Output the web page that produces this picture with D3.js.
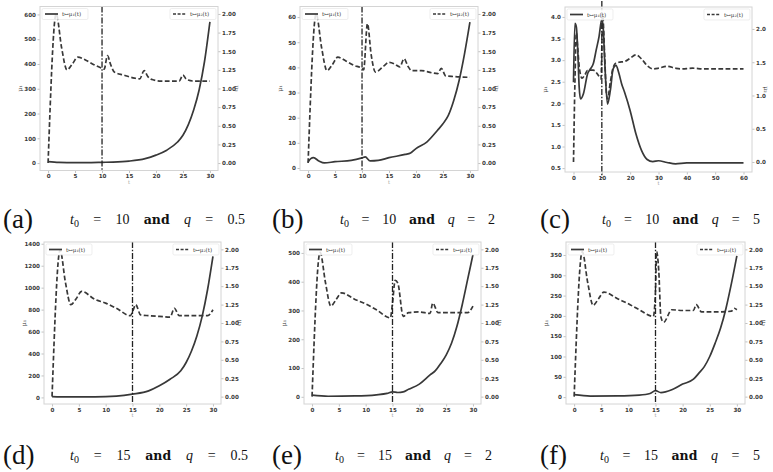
<!DOCTYPE html>
<html>
<head>
<meta charset="utf-8">
<script src="https://cdn.jsdelivr.net/npm/d3@7"></script>
<style>
  body { margin: 0; background: #fff; }
  .tick text { font-family: "DejaVu Sans", sans-serif; }
</style>
</head>
<body>
<svg id="fig" width="773" height="472"></svg>
<script>
// ---- values ----
// (a) t0 = 10, q = 0.5
var aT1 = [0, 2, 5, 8, 10, 12, 15, 18, 20, 22, 24, 25, 26, 27, 28, 29, 30];
var aMu1 = [6, 3, 2, 2, 3, 4, 8, 18, 32, 52, 85, 112, 155, 215, 295, 410, 570];
var aT2 = [0, 1.5, 2.5, 3.5, 4.5, 5.5, 7, 8.5, 10, 10.4, 11, 11.6, 12.3, 14, 16, 17, 17.8, 18.5, 19.3, 21, 23, 24.3, 25, 25.7, 27, 30];
var aMu2 = [0, 2.0, 1.55, 1.25, 1.33, 1.42, 1.38, 1.32, 1.27, 1.26, 1.44, 1.32, 1.22, 1.18, 1.14, 1.13, 1.24, 1.16, 1.12, 1.10, 1.10, 1.10, 1.18, 1.12, 1.10, 1.10];

// (b) t0 = 10, q = 2
var bT1 = [0, 0.5, 1, 2, 3, 5, 8, 10, 10.6, 11.5, 13, 15, 18, 19, 20, 22, 24, 25, 26, 27, 28, 29, 30];
var bMu1 = [2.4, 3.7, 4.1, 2.8, 2.0, 2.5, 3.0, 4.0, 4.4, 2.8, 3.0, 4.1, 5.4, 6.0, 7.7, 10.3, 15, 17.6, 20.9, 26.8, 34.8, 45.4, 58];
var bT2 = [0, 1.5, 2.5, 3.5, 4.5, 5.5, 7, 8.5, 10, 10.3, 11, 11.7, 12.5, 14, 15, 16, 17, 17.8, 18.5, 19.2, 21, 23, 24, 24.7, 25.5, 27, 30];
var bMu2 = [0, 2.0, 1.55, 1.24, 1.32, 1.42, 1.37, 1.31, 1.27, 1.25, 1.87, 1.45, 1.22, 1.30, 1.35, 1.33, 1.29, 1.40, 1.30, 1.24, 1.24, 1.21, 1.20, 1.27, 1.17, 1.16, 1.15];

// (c) t0 = 10, q = 5
var cT1 = [0, 0.5, 1, 1.5, 2, 2.5, 3.5, 5, 6, 7, 8, 9, 10, 10.5, 11, 12, 13, 14, 15, 16, 17, 18, 20, 22, 24, 26, 28, 30, 33, 36, 40, 45, 50, 55, 60];
var cMu1 = [2.49, 3.85, 3.77, 3.23, 2.38, 2.1, 2.22, 2.69, 2.8, 2.92, 3.23, 3.54, 3.95, 3.73, 3.0, 1.98, 2.3, 2.8, 2.88, 2.7, 2.45, 2.26, 1.83, 1.3, 0.91, 0.70, 0.65, 0.67, 0.63, 0.60, 0.62, 0.62, 0.62, 0.62, 0.62];
var cT2 = [0, 0.5, 1, 1.5, 2, 3, 4, 5, 7, 9, 9.7, 10.3, 11, 11.5, 12, 13, 14, 15, 16, 18, 20, 22, 24, 26, 28, 30, 33, 36, 38, 42, 46, 50, 55, 60];
var cMu2 = [0, 1.19, 1.94, 1.7, 1.44, 1.26, 1.31, 1.38, 1.38, 1.29, 1.25, 2.2, 1.6, 1.1, 0.95, 1.2, 1.42, 1.49, 1.5, 1.51, 1.56, 1.61, 1.55, 1.45, 1.4, 1.41, 1.44, 1.41, 1.4, 1.41, 1.4, 1.4, 1.4, 1.4];

// (d) t0 = 15, q = 0.5
var dT1 = [0, 3, 8, 12, 15, 18, 20, 22, 24, 25, 26, 27, 28, 29, 30];
var dMu1 = [8, 5, 5, 12, 30, 60, 106, 166, 242, 318, 423, 560, 741, 983, 1285];
var dT2 = [0, 1.5, 2.5, 3.5, 4.5, 5.5, 8, 10, 12, 14.6, 15, 15.6, 16.5, 18, 20, 22, 22.8, 23.7, 26, 29, 30];
var dMu2 = [0, 1.99, 1.55, 1.25, 1.33, 1.43, 1.32, 1.27, 1.2, 1.10, 1.15, 1.25, 1.11, 1.10, 1.09, 1.08, 1.2, 1.10, 1.10, 1.10, 1.18];

// (e) t0 = 15, q = 2
var eT1 = [0, 3, 8, 12, 14, 15, 16, 17, 18, 20, 22, 23, 24, 25, 26, 27, 28, 29, 30];
var eMu1 = [6, 2, 3, 7, 12, 17, 15, 17, 26, 44, 76, 91, 116, 145, 186, 244, 320, 407, 494];
var eT2 = [0, 1.5, 2.5, 3.5, 4.5, 5.5, 8, 10, 12, 14.6, 15, 15.5, 16, 17, 18, 20, 22, 22.5, 23.5, 26, 29, 30];
var eMu2 = [0, 1.96, 1.55, 1.23, 1.32, 1.41, 1.32, 1.26, 1.18, 1.07, 1.27, 1.58, 1.54, 1.09, 1.14, 1.15, 1.13, 1.27, 1.14, 1.14, 1.14, 1.23];

// (f) t0 = 15, q = 5
var fT1 = [0, 3, 8, 12, 14, 15, 16, 18, 20, 22, 23, 24, 25, 26, 27, 28, 29, 30];
var fMu1 = [6, 2.5, 3, 5, 9, 16, 11, 18, 32, 44, 59, 75, 100, 133, 170, 219, 280, 348];
var fT2 = [0, 1.5, 2.5, 3.5, 4.5, 5.5, 8, 10, 12, 14.6, 15, 15.2, 15.6, 16, 16.5, 18, 20, 22, 22.5, 23.5, 26, 29, 29.5, 30];
var fMu2 = [0, 1.97, 1.55, 1.24, 1.33, 1.42, 1.33, 1.26, 1.18, 1.09, 1.44, 1.97, 1.71, 1.08, 1.01, 1.18, 1.17, 1.17, 1.25, 1.15, 1.15, 1.16, 1.2, 1.18];

// tick labels
var xTicks30 = [0, 5, 10, 15, 20, 25, 30];
var xTicks60 = [0, 10, 20, 30, 40, 50, 60];
var rightTicks = [0, 0.25, 0.5, 0.75, 1.0, 1.25, 1.5, 1.75, 2.0];
var rightTicksC = [0, 0.5, 1.0, 1.5, 2.0];
var aLeftTicks = [0, 100, 200, 300, 400, 500, 600];
var bLeftTicks = [0, 10, 20, 30, 40, 50, 60];
var cLeftTicks = [0.5, 1.0, 1.5, 2.0, 2.5, 3.0, 3.5, 4.0];
var dLeftTicks = [0, 200, 400, 600, 800, 1000, 1200, 1400];
var eLeftTicks = [0, 100, 200, 300, 400, 500];
var fLeftTicks = [0, 50, 100, 150, 200, 250, 300, 350];

// captions
var capLetters = ['(a)', '(b)', '(c)', '(d)', '(e)', '(f)'];
var capT0 = ['10', '10', '10', '15', '15', '15'];
var capQ = ['0.5', '2', '5', '0.5', '2', '5'];

var svg = d3.select('#fig');

var panels = [
  {t1: aT1, mu1: aMu1, t2: aT2, mu2: aMu2, t0: 10, box: [40, 6.5, 218, 170.5],
   xDom: [-1.5, 31.5], lDom: [-30, 632], rDom: [-0.1, 2.1],
   xTicks: xTicks30, lTicks: aLeftTicks, rTicks: rightTicks, lFmt: 'd', rFmt: '.2f'},
  {t1: bT1, mu1: bMu1, t2: bT2, mu2: bMu2, t0: 10, box: [300, 6.5, 478, 170.5],
   xDom: [-1.5, 31.5], lDom: [-1, 64.2], rDom: [-0.1, 2.1],
   xTicks: xTicks30, lTicks: bLeftTicks, rTicks: rightTicks, lFmt: 'd', rFmt: '.2f'},
  {t1: cT1, mu1: cMu1, t2: cT2, mu2: cMu2, t0: 10, box: [565, 7, 752, 172],
   xDom: [-3, 63], lDom: [0.41, 4.23], rDom: [-0.15, 2.33],
   xTicks: xTicks60, lTicks: cLeftTicks, rTicks: rightTicksC, lFmt: '.1f', rFmt: '.1f', vExt: 6, rLab: 12},
  {t1: dT1, mu1: dMu1, t2: dT2, mu2: dMu2, t0: 15, box: [44, 242, 221, 404],
   xDom: [-1.5, 31.5], lDom: [-60, 1416], rDom: [-0.1, 2.1],
   xTicks: xTicks30, lTicks: dLeftTicks, rTicks: rightTicks, lFmt: 'd', rFmt: '.2f'},
  {t1: eT1, mu1: eMu1, t2: eT2, mu2: eMu2, t0: 15, box: [304, 242, 481, 404],
   xDom: [-1.5, 31.5], lDom: [-25, 538], rDom: [-0.1, 2.1],
   xTicks: xTicks30, lTicks: eLeftTicks, rTicks: rightTicks, lFmt: 'd', rFmt: '.2f'},
  {t1: fT1, mu1: fMu1, t2: fT2, mu2: fMu2, t0: 15, box: [566, 242, 745, 404],
   xDom: [-1.5, 31.5], lDom: [-17, 382], rDom: [-0.1, 2.1],
   xTicks: xTicks30, lTicks: fLeftTicks, rTicks: rightTicks, lFmt: 'd', rFmt: '.2f'}
];

var lineColor = '#383838',
    tickColor = '#3a3a3a',
    frameColor = '#d4d4d4',
    serif = '"Liberation Serif", "DejaVu Serif", serif';

function drawPanel(p, idx) {
  var x0 = p.box[0], y0 = p.box[1], x1 = p.box[2], y1 = p.box[3];

  var x = d3.scaleLinear().domain(p.xDom).range([x0, x1]),
      yL = d3.scaleLinear().domain(p.lDom).range([y1, y0]),
      yR = d3.scaleLinear().domain(p.rDom).range([y1, y0]);

  var g = svg.append('g');

  g.append('clipPath').attr('id', 'clip' + idx)
    .append('rect').attr('x', x0).attr('y', y0).attr('width', x1 - x0).attr('height', y1 - y0);

  g.append('rect')
    .attr('x', x0).attr('y', y0).attr('width', x1 - x0).attr('height', y1 - y0)
    .attr('fill', '#fff');

  // axes
  var axisStyle = function(sel) {
    sel.select('.domain').remove();
    sel.selectAll('.tick line').attr('stroke', '#999').attr('stroke-width', 0.6);
    sel.selectAll('.tick text')
      .attr('fill', tickColor)
      .style('font-size', '5.6px')
      .style('font-weight', 'bold');
  };

  g.append('g').attr('transform', 'translate(0,' + y1 + ')')
    .call(d3.axisBottom(x).tickValues(p.xTicks).tickSize(2.5).tickPadding(1.5).tickFormat(d3.format('d')))
    .call(axisStyle);

  g.append('g').attr('transform', 'translate(' + x0 + ',0)')
    .call(d3.axisLeft(yL).tickValues(p.lTicks).tickSize(2.5).tickPadding(1.5).tickFormat(d3.format(p.lFmt)))
    .call(axisStyle);

  g.append('g').attr('transform', 'translate(' + x1 + ',0)')
    .call(d3.axisRight(yR).tickValues(p.rTicks).tickSize(2.5).tickPadding(1.5).tickFormat(d3.format(p.rFmt)))
    .call(axisStyle);

  // axis labels
  var midY = (y0 + y1) / 2;
  g.append('text')
    .attr('transform', 'translate(' + (x0 - 18) + ',' + midY + ') rotate(-90)')
    .attr('text-anchor', 'middle')
    .attr('fill', tickColor)
    .style('font-family', '"DejaVu Serif", serif')
    .style('font-size', '6px')
    .text('μ₁');
  g.append('text')
    .attr('transform', 'translate(' + (x1 + (p.rLab || 17)) + ',' + midY + ') rotate(90)')
    .attr('text-anchor', 'middle')
    .attr('fill', tickColor)
    .style('font-family', '"DejaVu Serif", serif')
    .style('font-size', '6px')
    .text('μ₂');
  g.append('text')
    .attr('x', (x0 + x1) / 2).attr('y', y1 + 13)
    .attr('text-anchor', 'middle')
    .attr('fill', '#999')
    .style('font-family', '"DejaVu Serif", serif')
    .style('font-size', '5px')
    .text('t');

  var plot = g.append('g').attr('clip-path', 'url(#clip' + idx + ')');

  var solid = d3.line()
    .x(function(d, i) { return x(p.t1[i]); })
    .y(function(d) { return yL(d); })
    .curve(d3.curveMonotoneX);

  var dashed = d3.line()
    .x(function(d, i) { return x(p.t2[i]); })
    .y(function(d) { return yR(d); })
    .curve(d3.curveMonotoneX);

  plot.append('path')
    .attr('d', dashed(p.mu2))
    .attr('fill', 'none')
    .attr('stroke', lineColor)
    .attr('stroke-width', 1.7)
    .attr('stroke-dasharray', '4.8,2.4');

  plot.append('path')
    .attr('d', solid(p.mu1))
    .attr('fill', 'none')
    .attr('stroke', lineColor)
    .attr('stroke-width', 1.7);

  // t0 marker
  var ext = p.vExt || 0;
  g.append('line')
    .attr('x1', x(p.t0)).attr('x2', x(p.t0))
    .attr('y1', y0 - ext).attr('y2', y1 + ext)
    .attr('stroke', '#222')
    .attr('stroke-width', 1.3)
    .attr('stroke-dasharray', '6,1.8,1.4,1.8');

  g.append('rect')
    .attr('x', x0).attr('y', y0).attr('width', x1 - x0).attr('height', y1 - y0)
    .attr('fill', 'none')
    .attr('stroke', frameColor)
    .attr('stroke-width', 1);

  // legends
  var legW = 46, legH = 11;
  var legends = [
    {x: x0 + 2, label: 't↦μ₁(t)', dash: null},
    {x: x1 - 2 - legW, label: 't↦μ₂(t)', dash: '3,1.6'}
  ];
  legends.forEach(function(l) {
    var lg = g.append('g').attr('transform', 'translate(' + l.x + ',' + (y0 + 2) + ')');
    lg.append('rect')
      .attr('width', legW).attr('height', legH).attr('rx', 1.5)
      .attr('fill', '#fff').attr('fill-opacity', 0.85)
      .attr('stroke', '#e2e2e2').attr('stroke-width', 0.6);
    lg.append('line')
      .attr('x1', 3).attr('x2', 16).attr('y1', legH / 2).attr('y2', legH / 2)
      .attr('stroke', lineColor).attr('stroke-width', 1.7)
      .attr('stroke-dasharray', l.dash);
    lg.append('text')
      .attr('x', 20).attr('y', legH / 2 + 2)
      .attr('fill', '#333')
      .style('font-family', '"DejaVu Serif", serif')
      .style('font-size', '5.5px')
      .text(l.label);
  });
}

panels.forEach(drawPanel);

// captions: letter, then the condition text spread over its span
var capLetterX = [3, 272, 540, 3, 272, 540],
    capTextX = [70, 340, 602, 70, 335, 600],
    capTextW = [175, 155, 158, 178, 157, 160],
    capBase = [228, 228, 228, 464, 464, 464];

capLetters.forEach(function(letter, i) {
  svg.append('text')
    .attr('x', capLetterX[i]).attr('y', capBase[i])
    .attr('fill', '#111')
    .style('font-family', serif)
    .style('font-size', '27px')
    .text(letter);

  var base = capBase[i] - 4;
  var tokens = [
    [{s: 't', it: true}, {s: '0', sub: true}],
    [{s: '='}],
    [{s: capT0[i]}],
    [{s: 'and', bold: true}],
    [{s: 'q', it: true}],
    [{s: '='}],
    [{s: capQ[i]}]
  ];

  var cg = svg.append('g');
  var nodes = tokens.map(function(parts) {
    var t = cg.append('text')
      .attr('y', base)
      .attr('fill', '#111')
      .style('font-family', serif)
      .style('font-size', '14px');
    parts.forEach(function(pt) {
      var ts = t.append('tspan').text(pt.s);
      if (pt.it) ts.style('font-style', 'italic');
      if (pt.bold) {
        ts.style('font-family', '"DejaVu Serif", serif')
          .style('font-weight', 'bold')
          .style('font-size', '12.5px');
      }
      if (pt.sub) ts.attr('dy', 3).style('font-size', '10px');
    });
    return t;
  });

  var widths = nodes.map(function(n) { return n.node().getComputedTextLength(); }),
      total = d3.sum(widths),
      gap = (capTextW[i] - total) / (nodes.length - 1),
      cx = capTextX[i];
  nodes.forEach(function(n, k) {
    n.attr('x', cx);
    cx += widths[k] + gap;
  });
});
</script>
</body>
</html>
